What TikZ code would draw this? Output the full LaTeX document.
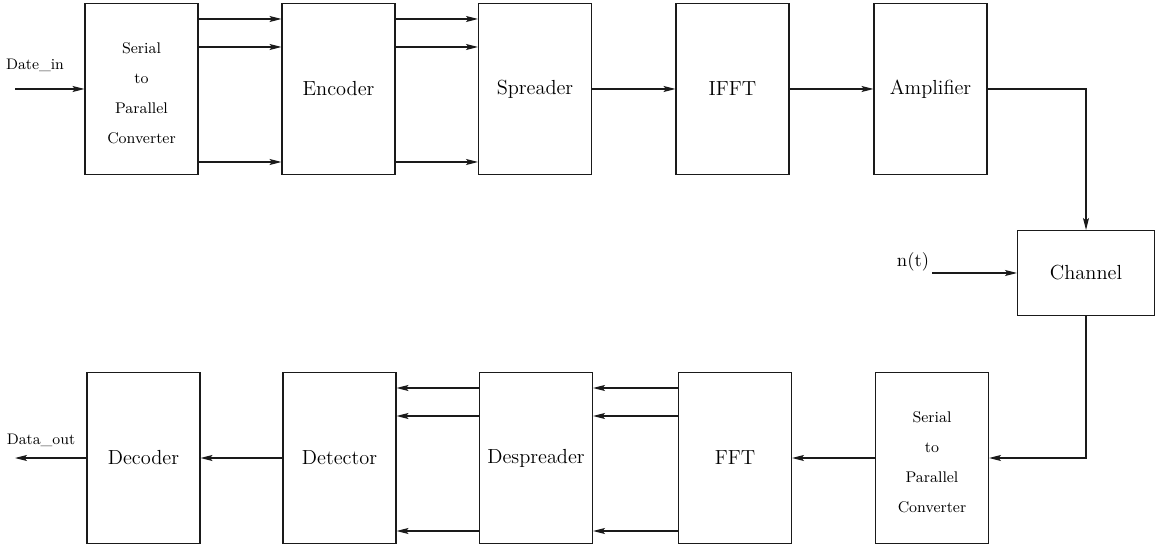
\documentclass[tikz,border=0pt]{standalone}
\usepackage{tikz}
\usetikzlibrary{arrows.meta,positioning,calc}
\definecolor{inkblack}{HTML}{1A1A1A}
\tikzset{
  block/.style={draw=inkblack, line width=0.6pt, align=center, minimum width=2.26cm, minimum height=3.42cm, inner sep=0pt, font=\fontsize{11.6}{14}\selectfont},
  convblock/.style={block, font=\fontsize{8.8}{17}\selectfont},
  chanblock/.style={block, minimum width=2.74cm, minimum height=1.7cm},
  siglabel/.style={inner sep=0pt, font=\fontsize{8.7}{11}\selectfont},
  arrow/.style={-{Stealth[length=2.4mm, width=1.2mm, inset=0.5mm]}, line width=0.6pt, draw=inkblack}
}
\begin{document}
\begin{tikzpicture}[x=0.02cm, y=-0.02cm]
  \useasboundingbox (0,0) rectangle (1156,550);

  % transmitter chain
  \node[convblock] (s2p) at (141.5,89) {\\[-6pt]Serial\\to\\Parallel\\Converter};
  \node[block] (enc) at (338.5,89) {Encoder};
  \node[block] (spr) at (535,89) {Spreader};
  \node[block] (ifft) at (732.5,89) {IFFT};
  \node[block] (amp) at (930.5,89) {Amplifier};

  \node[chanblock] (chan) at (1086,273) {Channel};

  % receiver chain
  \node[convblock] (s2pb) at (932,458) {\\[-6pt]Serial\\to\\Parallel\\Converter};
  \node[block] (fft) at (735,458) {FFT};
  \node[block] (desp) at (536,458) {Despreader};
  \node[block] (det) at (339.5,458) {Detector};
  \node[block] (dec) at (143.5,458) {Decoder};

  % inputs and outputs
  \node[siglabel] (datein) at (35,65) {Date\_in};
  \coordinate (insrc) at (15,89);
  \node[siglabel] (dataout) at (41,440) {Data\_out};
  \coordinate (outsnk) at (15,458);
  \node[siglabel, font=\fontsize{10.6}{13}\selectfont] (nlabel) at (913,262) {n(t)};
  \coordinate (nsrc) at (932,273);

  \draw[arrow] (insrc) -- (s2p.west);
  \draw[arrow] ($(s2p.east)+(0,-70)$) -- ($(enc.west)+(0,-70)$);
  \draw[arrow] ($(s2p.east)+(0,-42)$) -- ($(enc.west)+(0,-42)$);
  \draw[arrow] ($(s2p.east)+(0,73)$) -- ($(enc.west)+(0,73)$);
  \draw[arrow] ($(enc.east)+(0,-70)$) -- ($(spr.west)+(0,-70)$);
  \draw[arrow] ($(enc.east)+(0,-42)$) -- ($(spr.west)+(0,-42)$);
  \draw[arrow] ($(enc.east)+(0,73)$) -- ($(spr.west)+(0,73)$);
  \draw[arrow] (spr) -- (ifft);
  \draw[arrow] (ifft) -- (amp);
  \draw[arrow] (amp.east) -| (chan.north);
  \draw[arrow] (nsrc) -- (chan.west);
  \draw[arrow] (chan.south) |- (s2pb.east);
  \draw[arrow] (s2pb) -- (fft);
  \draw[arrow] ($(fft.west)+(0,-70)$) -- ($(desp.east)+(0,-70)$);
  \draw[arrow] ($(fft.west)+(0,-42)$) -- ($(desp.east)+(0,-42)$);
  \draw[arrow] ($(fft.west)+(0,73)$) -- ($(desp.east)+(0,73)$);
  \draw[arrow] ($(desp.west)+(0,-70)$) -- ($(det.east)+(0,-70)$);
  \draw[arrow] ($(desp.west)+(0,-42)$) -- ($(det.east)+(0,-42)$);
  \draw[arrow] ($(desp.west)+(0,73)$) -- ($(det.east)+(0,73)$);
  \draw[arrow] (det) -- (dec);
  \draw[arrow] (dec.west) -- (outsnk);
\end{tikzpicture}
\end{document}
